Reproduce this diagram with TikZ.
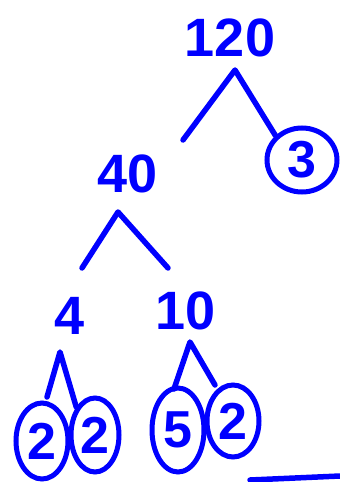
\documentclass[tikz,border=0pt]{standalone}
\usepackage{fontspec}
\setmainfont{Liberation Sans}
\usetikzlibrary{shapes.geometric}
\definecolor{pen}{RGB}{0,0,255}
\tikzset{
  num/.style={text=pen, font=\fontsize{54}{60}\selectfont\bfseries, inner sep=0pt},
  cnum/.style={num, font=\fontsize{52}{56}\selectfont\bfseries, ellipse, draw=pen, line width=5pt},
  branch/.style={draw=pen, line width=5.5pt, line cap=round, line join=round}
}
\begin{document}
\begin{tikzpicture}[x=1pt, y=-1pt]
\useasboundingbox (0,0) rectangle (340,482);
% numbers
\node[num] (n120) at (230,38) {120};
\node[num] (n40) at (128,174) {40};
\node[num] (n4) at (70,316) {4};
\node[num] (n10) at (186,311) {10};
\node[cnum, minimum width=70pt, minimum height=64pt] (c3) at (302,160) {3};
\node[cnum, minimum width=52pt, minimum height=76pt] (c2a) at (42,441) {2};
\node[cnum, minimum width=48pt, minimum height=74pt] (c2b) at (95,435) {2};
\node[cnum, minimum width=52pt, minimum height=84pt] (c5) at (178,430) {5};
\node[cnum, minimum width=52pt, minimum height=72pt] (c2c) at (233,421) {2};
% branch points
\coordinate (a120) at (235,70);
\coordinate (l120) at (183,140);
\coordinate (a40) at (118,212);
\coordinate (l40) at (82,268);
\coordinate (r40) at (168,268);
\coordinate (a4) at (60,352);
\coordinate (l4) at (47,397);
\coordinate (a10) at (190,342);
\coordinate (l10) at (174,389);
\coordinate (r10) at (215,385);
\draw[branch] (l120) -- (a120) -- (c3.north west);
\draw[branch] (l40) -- (a40) -- (r40);
\draw[branch] (l4) -- (a4) -- (c2b.north west);
\draw[branch] (l10) -- (a10) -- (r10);
% bottom stroke
\coordinate (b1) at (250,480);
\coordinate (b2) at (340,476);
\draw[branch] (b1) -- (b2);
\end{tikzpicture}
\end{document}
